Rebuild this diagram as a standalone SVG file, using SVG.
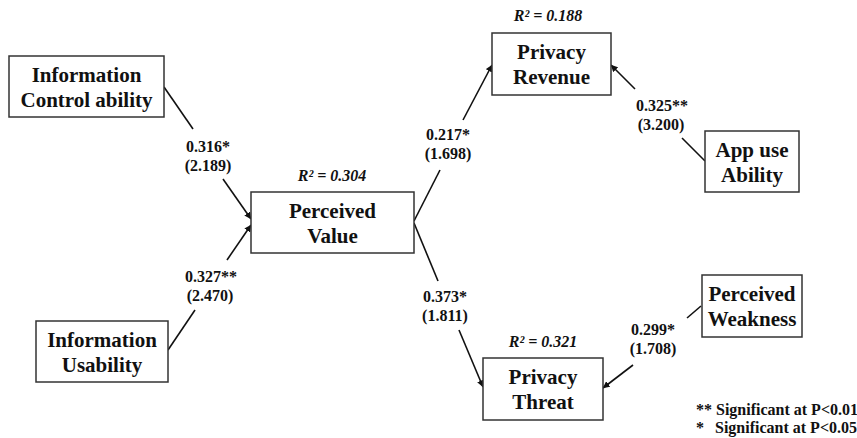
<svg xmlns="http://www.w3.org/2000/svg" width="857" height="438" viewBox="0 0 857 438" font-family="'Liberation Serif', 'DejaVu Serif', serif">
<style>
  text { font-family: "Liberation Serif", "DejaVu Serif", serif; font-weight: bold; fill: #111; }
  .box { fill: #fff; stroke: #333; stroke-width: 1.5; }
  .nt { font-size: 21px; text-anchor: middle; }
  .lbl { font-size: 16px; text-anchor: middle; }
  .r2 { font-style: italic; font-size: 16px; text-anchor: middle; }
  .leg { font-size: 16px; }
  .ln { stroke: #111; stroke-width: 1.6; fill: none; }
  .ar { stroke: #111; stroke-width: 1.6; fill: none; marker-end: url(#ah); }
</style>
<defs>
  <marker id="ah" viewBox="0 0 10 10" refX="9.5" refY="5" markerWidth="7" markerHeight="7" markerUnits="userSpaceOnUse" orient="auto">
    <path d="M0,0 L10,5 L0,10 z" fill="#111"/>
  </marker>
</defs>
<rect width="857" height="438" fill="#fff"/>

<g id="connectors">
  <line class="ln" x1="164" y1="87" x2="193" y2="129"/>
  <line class="ar" x1="223" y1="179" x2="251" y2="219"/>
  <line class="ln" x1="168" y1="350" x2="195" y2="310"/>
  <line class="ar" x1="227" y1="260" x2="251" y2="225"/>
  <line class="ln" x1="414" y1="221" x2="440" y2="170"/>
  <line class="ar" x1="463" y1="120" x2="492" y2="65"/>
  <line class="ln" x1="705" y1="161" x2="682" y2="138"/>
  <line class="ar" x1="635" y1="89" x2="611" y2="65"/>
  <line class="ln" x1="414" y1="223" x2="438" y2="281"/>
  <line class="ar" x1="459" y1="330" x2="483" y2="387"/>
  <line class="ln" x1="701" y1="306" x2="687" y2="318"/>
  <line class="ar" x1="633" y1="365" x2="603" y2="388"/>
</g>

<g id="connector-labels">
  <text class="lbl" x="208" y="152">0.316*</text>
  <text class="lbl" x="208" y="171">(2.189)</text>
  <text class="lbl" x="211" y="282">0.327**</text>
  <text class="lbl" x="210" y="301">(2.470)</text>
  <text class="lbl" x="448" y="140">0.217*</text>
  <text class="lbl" x="448" y="159">(1.698)</text>
  <text class="lbl" x="662" y="111">0.325**</text>
  <text class="lbl" x="661" y="130">(3.200)</text>
  <text class="lbl" x="445" y="302">0.373*</text>
  <text class="lbl" x="445" y="321">(1.811)</text>
  <text class="lbl" x="653" y="335">0.299*</text>
  <text class="lbl" x="653" y="354">(1.708)</text>
</g>

<g id="node-info-control">
  <rect class="box" x="9" y="56" width="155" height="61"/>
  <text class="nt" x="86.5" y="82">Information</text>
  <text class="nt" x="86.5" y="107">Control ability</text>
</g>

<g id="node-info-usability">
  <rect class="box" x="36" y="321" width="132" height="61"/>
  <text class="nt" x="102" y="347">Information</text>
  <text class="nt" x="102" y="372">Usability</text>
</g>

<g id="node-perceived-value">
  <text class="r2" x="332" y="181">R² = 0.304</text>
  <rect class="box" x="251" y="192" width="163" height="61"/>
  <text class="nt" x="332.5" y="218">Perceived</text>
  <text class="nt" x="332.5" y="243">Value</text>
</g>

<g id="node-privacy-revenue">
  <text class="r2" x="548" y="21">R² = 0.188</text>
  <rect class="box" x="492" y="33" width="119" height="62"/>
  <text class="nt" x="551.5" y="59">Privacy</text>
  <text class="nt" x="551.5" y="84">Revenue</text>
</g>

<g id="node-app-use-ability">
  <rect class="box" x="705" y="131" width="94" height="61"/>
  <text class="nt" x="752" y="157">App use</text>
  <text class="nt" x="752" y="182">Ability</text>
</g>

<g id="node-perceived-weakness">
  <rect class="box" x="702" y="275" width="100" height="62"/>
  <text class="nt" x="752" y="301">Perceived</text>
  <text class="nt" x="752" y="326">Weakness</text>
</g>

<g id="node-privacy-threat">
  <text class="r2" x="543" y="347">R² = 0.321</text>
  <rect class="box" x="483" y="358" width="120" height="62"/>
  <text class="nt" x="543" y="384">Privacy</text>
  <text class="nt" x="543" y="409">Threat</text>
</g>

<g id="legend">
  <text class="leg" x="696" y="415">** Significant at P&lt;0.01</text>
  <text class="leg" y="433"><tspan x="696">*</tspan><tspan x="715">Significant at P&lt;0.05</tspan></text>
</g>
</svg>
